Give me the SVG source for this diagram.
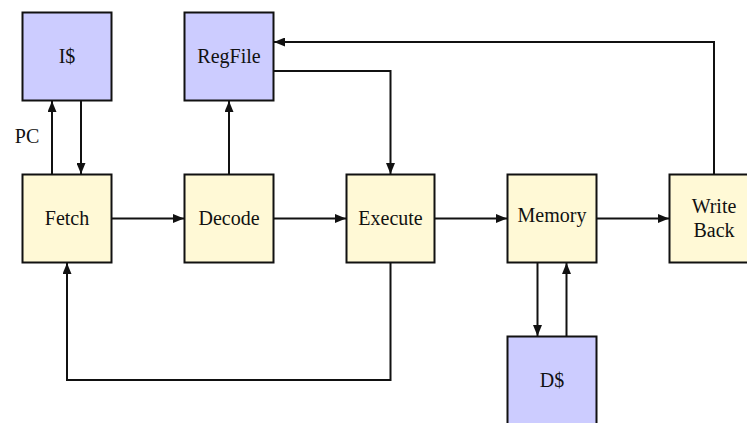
<svg xmlns="http://www.w3.org/2000/svg" width="747" height="423" viewBox="0 0 747 423">
<defs>
<style>
.box{stroke:#111;stroke-width:2}
.stage{fill:#fff9d6}
.mem{fill:#ccccff}
.lbl{font-family:"Liberation Serif","Times New Roman",serif;font-size:20px;fill:#111;text-anchor:middle}
.wire{fill:none;stroke:#111;stroke-width:2}
</style>
<marker id="ah" viewBox="0 0 11 9" refX="11" refY="4.5" markerWidth="11" markerHeight="9" markerUnits="userSpaceOnUse" orient="auto">
<path d="M0,0 L11,4.5 L0,9 Z" fill="#111"/>
</marker>
</defs>
<rect width="747" height="423" fill="#fff"/>
<g id="icache"><rect class="box mem" x="22.5" y="12.5" width="89" height="88"/><text class="lbl" x="67" y="63">I$</text></g>
<g id="regfile"><rect class="box mem" x="184.5" y="12.5" width="89" height="88"/><text class="lbl" x="229" y="63">RegFile</text></g>
<g id="fetch"><rect class="box stage" x="22.5" y="174.5" width="89" height="88"/><text class="lbl" x="67" y="225">Fetch</text></g>
<g id="decode"><rect class="box stage" x="184.5" y="174.5" width="89" height="88"/><text class="lbl" x="229" y="225">Decode</text></g>
<g id="execute"><rect class="box stage" x="346.5" y="174.5" width="88" height="88"/><text class="lbl" x="390.5" y="225">Execute</text></g>
<g id="memory"><rect class="box stage" x="507.5" y="174.5" width="89" height="88"/><text class="lbl" x="552" y="222">Memory</text></g>
<g id="writeback"><rect class="box stage" x="669.5" y="174.5" width="89" height="88"/><text class="lbl" x="714" y="213">Write</text><text class="lbl" x="714" y="237">Back</text></g>
<g id="dcache"><rect class="box mem" x="507.5" y="336.5" width="89" height="100"/><text class="lbl" x="552" y="387">D$</text></g>
<g id="connectors">
<path class="wire" d="M52,174 V101" marker-end="url(#ah)"/>
<text class="lbl" x="27" y="143">PC</text>
<path class="wire" d="M81,101 V174" marker-end="url(#ah)"/>
<path class="wire" d="M229,174 V101" marker-end="url(#ah)"/>
<path class="wire" d="M112,218.5 H184" marker-end="url(#ah)"/>
<path class="wire" d="M274,218.5 H346" marker-end="url(#ah)"/>
<path class="wire" d="M435,218.5 H507" marker-end="url(#ah)"/>
<path class="wire" d="M597,218.5 H669" marker-end="url(#ah)"/>
<path class="wire" d="M274,71 H390.5 V174" marker-end="url(#ah)"/>
<path class="wire" d="M714,174 V42 H274" marker-end="url(#ah)"/>
<path class="wire" d="M390.5,263 V380 H67 V263" marker-end="url(#ah)"/>
<path class="wire" d="M537.5,263 V336" marker-end="url(#ah)"/>
<path class="wire" d="M566.5,336 V263" marker-end="url(#ah)"/>
</g>
</svg>
